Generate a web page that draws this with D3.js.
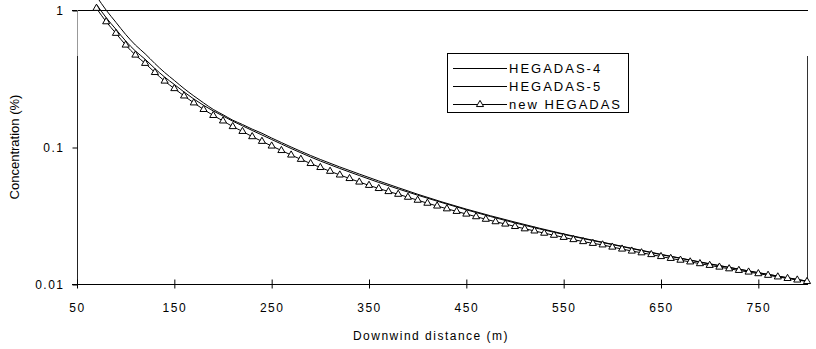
<!DOCTYPE html>
<html>
<head>
<meta charset="utf-8">
<script src="https://cdn.jsdelivr.net/npm/d3@7"></script>
<style>
  html, body { margin: 0; padding: 0; background: #fff; }
  svg { display: block; }
  text { font-family: "Liberation Sans", Arial, sans-serif; fill: #000; }
</style>
</head>
<body>
<svg id="chart" width="816" height="349"></svg>
<script>
// Downwind distance (m) of each plotted point
const distNew = [70, 80, 90, 100, 110, 120, 130, 140, 150, 160, 170, 180, 190, 200,
  210, 220, 230, 240, 250, 260, 270, 280, 290, 300, 310, 320, 330, 340, 350, 360,
  370, 380, 390, 400, 410, 420, 430, 440, 450, 460, 470, 480, 490, 500, 510, 520,
  530, 540, 550, 560, 570, 580, 590, 600, 610, 620, 630, 640, 650, 660, 670, 680,
  690, 700, 710, 720, 730, 740, 750, 760, 770, 780, 790, 800];

// Concentration (%) predicted by new HEGADAS
const concNew = [1.029, 0.821, 0.676, 0.555, 0.469, 0.408, 0.350, 0.303, 0.267, 0.236,
  0.210, 0.188, 0.170, 0.155, 0.141, 0.130, 0.119, 0.110, 0.1017, 0.0943, 0.0874,
  0.0813, 0.0758, 0.0709, 0.0665, 0.0625, 0.0589, 0.0555, 0.0525, 0.0498, 0.0473,
  0.0452, 0.0430, 0.0409, 0.0389, 0.0371, 0.0354, 0.0339, 0.0324, 0.0310, 0.0297,
  0.0285, 0.0274, 0.0263, 0.0253, 0.0244, 0.0235, 0.0227, 0.0219, 0.0211, 0.0204,
  0.0198, 0.0193, 0.0186, 0.0180, 0.0174, 0.0169, 0.0164, 0.01587, 0.01538, 0.01493,
  0.01450, 0.01408, 0.01368, 0.01329, 0.01292, 0.01257, 0.01223, 0.01190, 0.01158,
  0.01127, 0.01098, 0.01070, 0.01043];

// Distances used for the two older model curves
const distOld = [70, 80, 90, 100, 110, 120, 130, 140, 150, 160, 170, 180, 190, 200,
  210, 220, 230, 240, 250, 260, 270, 280, 290, 300, 320, 340, 360, 380, 400, 450,
  500, 550, 600, 650, 700, 750, 800];

// Concentration (%) predicted by HEGADAS-4
const concH4 = [1.259, 0.997, 0.813, 0.663, 0.555, 0.479, 0.407, 0.350, 0.306, 0.267,
  0.236, 0.210, 0.188, 0.172, 0.157, 0.146, 0.135, 0.126, 0.1163, 0.1078, 0.1000,
  0.0930, 0.0867, 0.0811, 0.0715, 0.0635, 0.0565, 0.0505, 0.0452, 0.0352, 0.0283,
  0.0232, 0.0195, 0.01646, 0.01405, 0.01210, 0.01049];

// Concentration (%) predicted by HEGADAS-5
const concH5 = [1.100, 0.879, 0.723, 0.594, 0.502, 0.437, 0.374, 0.324, 0.286, 0.252,
  0.224, 0.2016, 0.1832, 0.1684, 0.1543, 0.1428, 0.1320, 0.1224, 0.1134, 0.1051,
  0.0975, 0.0907, 0.0845, 0.0790, 0.0697, 0.0619, 0.0551, 0.0494, 0.0445, 0.0348,
  0.0279, 0.0230, 0.0194, 0.01638, 0.01400, 0.01208, 0.01049];

const xTicks = [50, 150, 250, 350, 450, 550, 650, 750];
const yTicks = [1, 0.1, 0.01];
const yTickLabels = ["1", "0.1", "0.01"];
const seriesNames = ["HEGADAS-4", "HEGADAS-5", "new HEGADAS"];

const svg = d3.select("#chart");
const W = 816, H = 349;
svg.append("rect").attr("width", W).attr("height", H).attr("fill", "#fff");

const plotLeft = 77, plotRight = 807, plotTop = 10, plotBottom = 284;
const x = d3.scaleLinear().domain([50, 800]).range([plotLeft, plotRight]);
const y = d3.scaleLog().domain([0.01, 1]).range([plotBottom, plotTop]);

svg.append("defs").append("clipPath").attr("id", "plotClip")
  .append("rect").attr("x", plotLeft).attr("y", -20)
  .attr("width", plotRight - plotLeft + 2).attr("height", plotBottom + 20);

// top reference line at 1 %
svg.append("line")
  .attr("x1", plotLeft - 5).attr("x2", plotRight + 1)
  .attr("y1", y(1) + 0.5).attr("y2", y(1) + 0.5)
  .attr("stroke", "#000").attr("stroke-width", 1);

// right border
svg.append("line")
  .attr("x1", plotRight + 0.5).attr("x2", plotRight + 0.5)
  .attr("y1", 56).attr("y2", plotBottom)
  .attr("stroke", "#333").attr("stroke-width", 1);

// left axis line (upper part lighter)
svg.append("line")
  .attr("x1", plotLeft + 0.5).attr("x2", plotLeft + 0.5)
  .attr("y1", y(1)).attr("y2", 56)
  .attr("stroke", "#999").attr("stroke-width", 1);
svg.append("line")
  .attr("x1", plotLeft + 0.5).attr("x2", plotLeft + 0.5)
  .attr("y1", 56).attr("y2", plotBottom)
  .attr("stroke", "#222").attr("stroke-width", 1);

// y axis ticks and labels
const yAxis = d3.axisLeft(y).tickValues(yTicks)
  .tickFormat((d, i) => yTickLabels[i]).tickSize(5).tickPadding(8);
const gy = svg.append("g").attr("transform", `translate(${plotLeft + 0.5},0.5)`).call(yAxis);
gy.select(".domain").remove();
gy.selectAll(".tick line").attr("stroke", "#000");
gy.selectAll(".tick text")
  .style("font-family", "'Liberation Sans', Arial, sans-serif")
  .style("font-size", "12px").style("letter-spacing", "1.5px").attr("fill", "#000");

// x axis with crossing ticks
const xAxis = d3.axisBottom(x).tickValues(xTicks).tickSize(5).tickPadding(14);
const gx = svg.append("g").attr("transform", `translate(0,${plotBottom + 0.5})`).call(xAxis);
gx.select(".domain").attr("d", `M${plotLeft - 5},0H${plotRight + 1}`).attr("stroke", "#000");
gx.selectAll(".tick line").attr("y1", -5).attr("y2", 4).attr("stroke", "#000");
gx.selectAll(".tick text")
  .style("font-family", "'Liberation Sans', Arial, sans-serif")
  .style("font-size", "12px").style("letter-spacing", "1.5px").attr("fill", "#000");

// axis titles
svg.append("text")
  .attr("x", 431).attr("y", 340).attr("text-anchor", "middle")
  .style("font-size", "12px").style("letter-spacing", "1.5px")
  .text("Downwind distance (m)");
svg.append("text")
  .attr("transform", `translate(19,147) rotate(-90)`).attr("text-anchor", "middle")
  .style("font-size", "13px")
  .text("Concentration (%)");

// curves
const line = d3.line().x(d => x(d[0])).y(d => y(d[1])).curve(d3.curveMonotoneX);
const plot = svg.append("g").attr("clip-path", "url(#plotClip)");
const h4 = distOld.map((d, i) => [d, concH4[i]]);
const h5 = distOld.map((d, i) => [d, concH5[i]]);
const hn = distNew.map((d, i) => [d, concNew[i]]);
[h4, h5, hn].forEach(pts => {
  plot.append("path").datum(pts).attr("d", line)
    .attr("fill", "none").attr("stroke", "#000").attr("stroke-width", 1);
});

const tri = d3.symbol().type(d3.symbolTriangle).size(22);
svg.append("g").selectAll("path").data(hn).join("path")
  .attr("d", tri)
  .attr("transform", d => `translate(${x(d[0])},${y(d[1])})`)
  .attr("fill", "#fff").attr("stroke", "#000").attr("stroke-width", 1);

// legend
const lg = svg.append("g");
lg.append("rect").attr("x", 447.5).attr("y", 53.5).attr("width", 181).attr("height", 59)
  .attr("fill", "#fff").attr("stroke", "#000").attr("stroke-width", 1);
const rowY = [68, 86, 104];
seriesNames.forEach((name, i) => {
  lg.append("line").attr("x1", 453).attr("x2", 507)
    .attr("y1", rowY[i] + 0.5).attr("y2", rowY[i] + 0.5)
    .attr("stroke", "#000").attr("stroke-width", 1);
  lg.append("text").attr("x", 509).attr("y", rowY[i] + 4.5)
    .style("font-size", "13px").style("letter-spacing", "2px").text(name);
});
lg.append("path").attr("d", tri)
  .attr("transform", `translate(480,${rowY[2] + 0.5})`)
  .attr("fill", "#fff").attr("stroke", "#000").attr("stroke-width", 1);
</script>
</body>
</html>
